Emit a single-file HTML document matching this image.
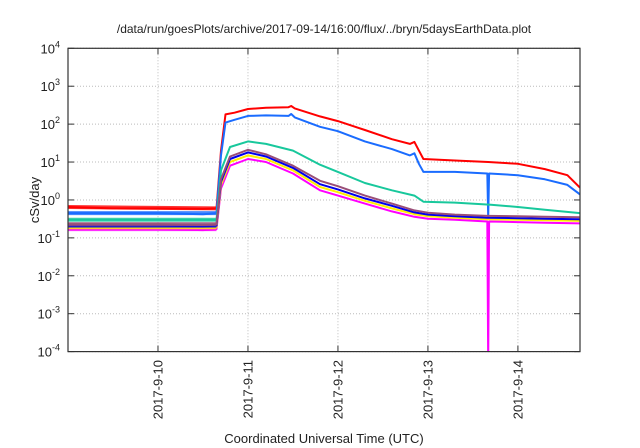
<!DOCTYPE html>
<html><head><meta charset="utf-8"><style>
html,body{margin:0;padding:0;background:#fff;}
svg{display:block;font-family:"Liberation Sans",sans-serif;}
</style></head><body>
<svg id="chart" width="640" height="448" viewBox="0 0 640 448"></svg>
<script>
// ---- data (x in days since 2017-09-09 00:00 UTC, y in cSv/day) ----
const xTickLabels = ["2017-9-10","2017-9-11","2017-9-12","2017-9-13","2017-9-14"];
const xTickDays = [1,2,3,4,5];
const yTickExps = [-4,-3,-2,-1,0,1,2,3,4];
const seriesNames = ["red","blue","green","magenta","yellow","darkblue","mauve"];
const seriesColors = ["#ff0000","#1a6cff","#18c89c","#ff00ff","#ffee00","#0000ee","#9a4e78"];
const tRed   = [0,0.5,1,1.5,1.65,1.7,1.75,1.85,2.0,2.2,2.45,2.48,2.52,2.8,3.0,3.3,3.6,3.8,3.85,3.9,3.95,4.3,4.67,5.0,5.3,5.55,5.69];
const vRed   = [0.65,0.6,0.6,0.58,0.6,20,180,200,250,270,280,300,260,160,120,70,40,30,34,20,12,11,10,9,6.5,4.5,2.1];
const tBlue  = [0,0.5,1,1.5,1.65,1.7,1.75,1.85,2.0,2.2,2.45,2.48,2.52,2.8,3.0,3.3,3.6,3.8,3.85,3.9,3.95,4.3,4.66,4.67,4.68,5.0,5.3,5.55,5.69];
const vBlue  = [0.45,0.45,0.45,0.42,0.45,15,110,130,165,170,165,185,150,85,65,35,22,15,17,9,5.5,5.5,5,0.35,5,4.5,3.5,2.5,1.4];
const tGreen = [0,0.5,1,1.5,1.65,1.7,1.8,2.0,2.2,2.5,2.8,3.0,3.3,3.6,3.85,3.95,4.3,4.7,5.0,5.3,5.69];
const vGreen = [0.3,0.3,0.3,0.3,0.3,6,25,35,30,20,8.5,5.5,2.8,1.8,1.3,0.9,0.85,0.75,0.65,0.55,0.45];
const tLow   = [0,0.5,1,1.5,1.65,1.7,1.8,2.0,2.2,2.5,2.8,3.0,3.3,3.6,3.85,4.0,4.3,4.66,4.67,4.68,5.0,5.3,5.69];
const vMag   = [0.17,0.17,0.17,0.16,0.17,2,8,12,10,5,1.8,1.3,0.8,0.5,0.36,0.32,0.3,0.27,0.00005,0.27,0.26,0.25,0.24];
const vYel   = [0.19,0.19,0.19,0.19,0.19,2.5,10,15,12,6,2.2,1.6,0.95,0.6,0.42,0.37,0.34,0.31,0.31,0.31,0.3,0.29,0.28];
const vDkb   = [0.21,0.21,0.21,0.2,0.21,3,12,18,14,7,2.6,1.9,1.1,0.7,0.47,0.41,0.37,0.34,0.34,0.34,0.33,0.32,0.31];
const vMauve = [0.23,0.23,0.23,0.22,0.23,3.5,14,21,16,8,3.2,2.3,1.3,0.8,0.53,0.46,0.41,0.38,0.38,0.38,0.37,0.36,0.35];
const seriesT = [tRed,tBlue,tGreen,tLow,tLow,tLow,tLow];
const seriesV = [vRed,vBlue,vGreen,vMag,vYel,vDkb,vMauve];

const L=68,R=580,T=48.3,B=351.6, X0=0, X1=5.69;
const xs=d=>L+(d-X0)/(X1-X0)*(R-L);
const ys=v=>{let e=Math.log10(v); if(e<-4.3)e=-4.3; return T+(4-e)*(B-T)/8;};
const NS="http://www.w3.org/2000/svg";
const svg=document.getElementById('chart');
function mk(tag,attrs,parent){const e=document.createElementNS(NS,tag);for(const k in attrs)e.setAttribute(k,attrs[k]);(parent||svg).appendChild(e);return e;}

const title=mk('text',{x:324,y:33,'text-anchor':'middle','font-size':12,fill:'#222'});


title.textContent='/data/run/goesPlots/archive/2017-09-14/16:00/flux/../bryn/5daysEarthData.plot';

// grid
const grid=mk('g',{});


xTickDays.forEach(d=>{mk('line',{x1:xs(d),x2:xs(d),y1:T,y2:B,stroke:'#bbb','stroke-width':1,'stroke-dasharray':'1,2'},grid);});
yTickExps.forEach(e=>{const y=ys(Math.pow(10,e));mk('line',{x1:L,x2:R,y1:y,y2:y,stroke:'#bbb','stroke-width':1,'stroke-dasharray':'1,2'},grid);});

// series
const clipDef=mk('clipPath',{id:'pc'});mk('rect',{x:L,y:T,width:R-L,height:B-T},clipDef);
const sg=mk('g',{'clip-path':'url(#pc)'});


seriesNames.forEach((n,i)=>{
  const t=seriesT[i],v=seriesV[i];
  const d=t.map((x,j)=>(j?'L':'M')+xs(x).toFixed(1)+','+ys(v[j]).toFixed(1)).join('');
  const p=mk('path',{d:d,fill:'none',stroke:seriesColors[i],'stroke-width':2,'stroke-linejoin':'round'},sg);
  
  
  const bd='M'+xs(0)+','+ys(v[0])+'L'+xs(t[4])+','+ys(v[4]);
  const b=mk('path',{d:bd,fill:'none',stroke:seriesColors[i],'stroke-width':4,opacity:0.8},sg);
  
  
});

// frame
const fr=mk('rect',{x:L,y:T,width:R-L,height:B-T,fill:'none',stroke:'#333','stroke-width':1.2});



// y ticks
yTickExps.forEach(e=>{
  const y=ys(Math.pow(10,e));
  mk('line',{x1:L,x2:L+6,y1:y,y2:y,stroke:'#333'});
  mk('line',{x1:R-6,x2:R,y1:y,y2:y,stroke:'#333'});
  const tx=mk('text',{x:L-8,y:y+5,'text-anchor':'end','font-size':13,fill:'#222'});
  
  
  tx.appendChild(document.createTextNode('10'));
  const sp=mk('tspan',{dy:-6,'font-size':9},tx);sp.textContent=String(e);
});
// x ticks
xTickDays.forEach((d,i)=>{
  const x=xs(d);
  mk('line',{x1:x,x2:x,y1:B-6,y2:B,stroke:'#333'});
  mk('line',{x1:x,x2:x,y1:T,y2:T+6,stroke:'#333'});
  const tx=mk('text',{x:0,y:0,'text-anchor':'end','font-size':13,fill:'#222',transform:`translate(${x+4.5},360) rotate(-90)`});
  
  
  tx.textContent=xTickLabels[i];
});

const a=mk('text',{x:324,y:443,'text-anchor':'middle','font-size':13,fill:'#222'});


a.textContent='Coordinated Universal Time (UTC)';
const b=mk('text',{transform:'translate(39,200) rotate(-90)','text-anchor':'middle','font-size':13,fill:'#222'});


b.textContent='cSv/day';
</script>
</body></html>
